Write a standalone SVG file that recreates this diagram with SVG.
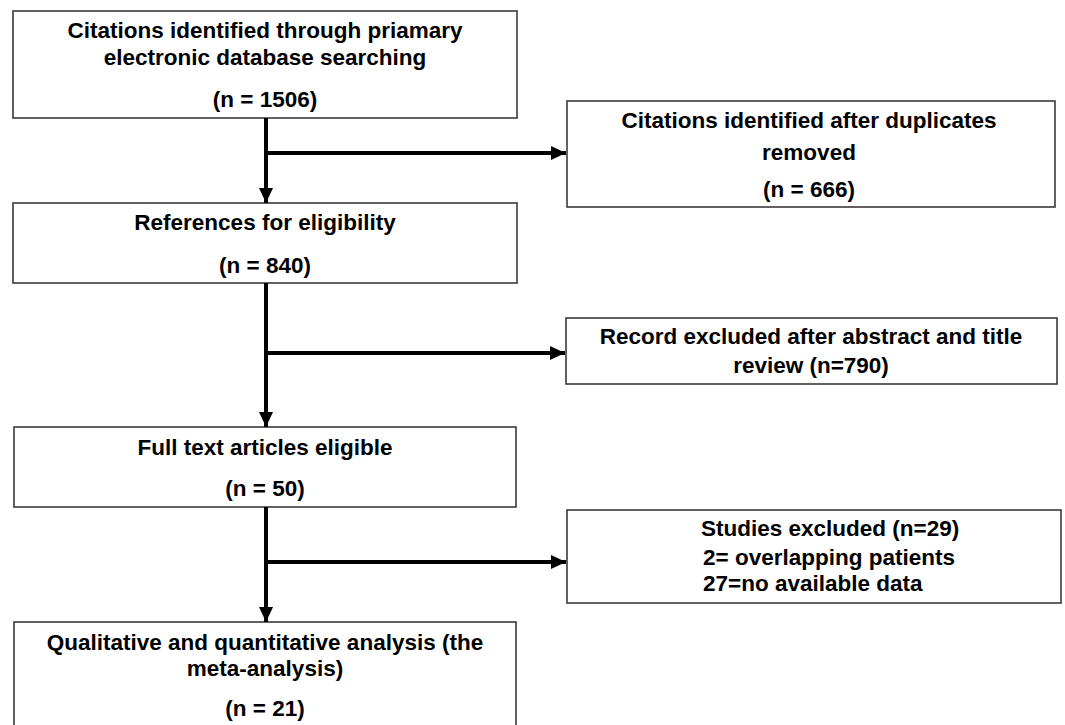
<svg xmlns="http://www.w3.org/2000/svg" width="1065" height="725" viewBox="0 0 1065 725">
<defs>
<style>
.box{fill:#fff;stroke:#3a3a3a;stroke-width:1.6}
.t{font-family:"Liberation Sans",Arial,sans-serif;font-weight:bold;font-size:22.5px;fill:#000;text-anchor:middle}
.tl{text-anchor:start}
.c{stroke:#000;stroke-width:4;fill:none}
</style>
<marker id="ah" markerUnits="userSpaceOnUse" markerWidth="18" markerHeight="18" refX="15" refY="9" orient="auto">
<path d="M0,2 L15,9 L0,16 Z" fill="#000"/>
</marker>
</defs>
<rect width="1065" height="725" fill="#fff"/>
<g id="n1"><rect class="box" x="13" y="11" width="504" height="107"/>
<text class="t" x="265" y="38">Citations identified through priamary</text>
<text class="t" x="265" y="65">electronic database searching</text>
<text class="t" x="265" y="107">(n = 1506)</text></g>
<g id="n2"><rect class="box" x="567" y="101" width="488" height="106"/>
<text class="t" x="809" y="128">Citations identified after duplicates</text>
<text class="t" x="809" y="160">removed</text>
<text class="t" x="809" y="197">(n = 666)</text></g>
<g id="n3"><rect class="box" x="13" y="203" width="504" height="80"/>
<text class="t" x="265" y="230">References for eligibility</text>
<text class="t" x="265" y="273">(n = 840)</text></g>
<g id="n4"><rect class="box" x="566" y="318" width="491" height="66"/>
<text class="t" x="811" y="344">Record excluded after abstract and title</text>
<text class="t" x="811" y="373">review (n=790)</text></g>
<g id="n5"><rect class="box" x="14" y="427" width="502" height="80"/>
<text class="t" x="265" y="455">Full text articles eligible</text>
<text class="t" x="265" y="496">(n = 50)</text></g>
<g id="n6"><rect class="box" x="567" y="510" width="494" height="93"/>
<text class="t tl" x="701" y="536">Studies excluded (n=29)</text>
<text class="t tl" x="703" y="565">2= overlapping patients</text>
<text class="t tl" x="703" y="591">27=no available data</text></g>
<g id="n7"><rect class="box" x="14" y="622" width="502" height="110"/>
<text class="t" x="265" y="650">Qualitative and quantitative analysis (the</text>
<text class="t" x="265" y="676">meta-analysis)</text>
<text class="t" x="265" y="716">(n = 21)</text></g>
<g id="connectors">
<line class="c" x1="266" y1="118" x2="266" y2="203" marker-end="url(#ah)"/>
<line class="c" x1="266" y1="153" x2="566" y2="153" marker-end="url(#ah)"/>
<line class="c" x1="266" y1="283" x2="266" y2="427" marker-end="url(#ah)"/>
<line class="c" x1="266" y1="353" x2="565" y2="353" marker-end="url(#ah)"/>
<line class="c" x1="266" y1="507" x2="266" y2="622" marker-end="url(#ah)"/>
<line class="c" x1="266" y1="562" x2="566" y2="562" marker-end="url(#ah)"/>
</g>
</svg>
